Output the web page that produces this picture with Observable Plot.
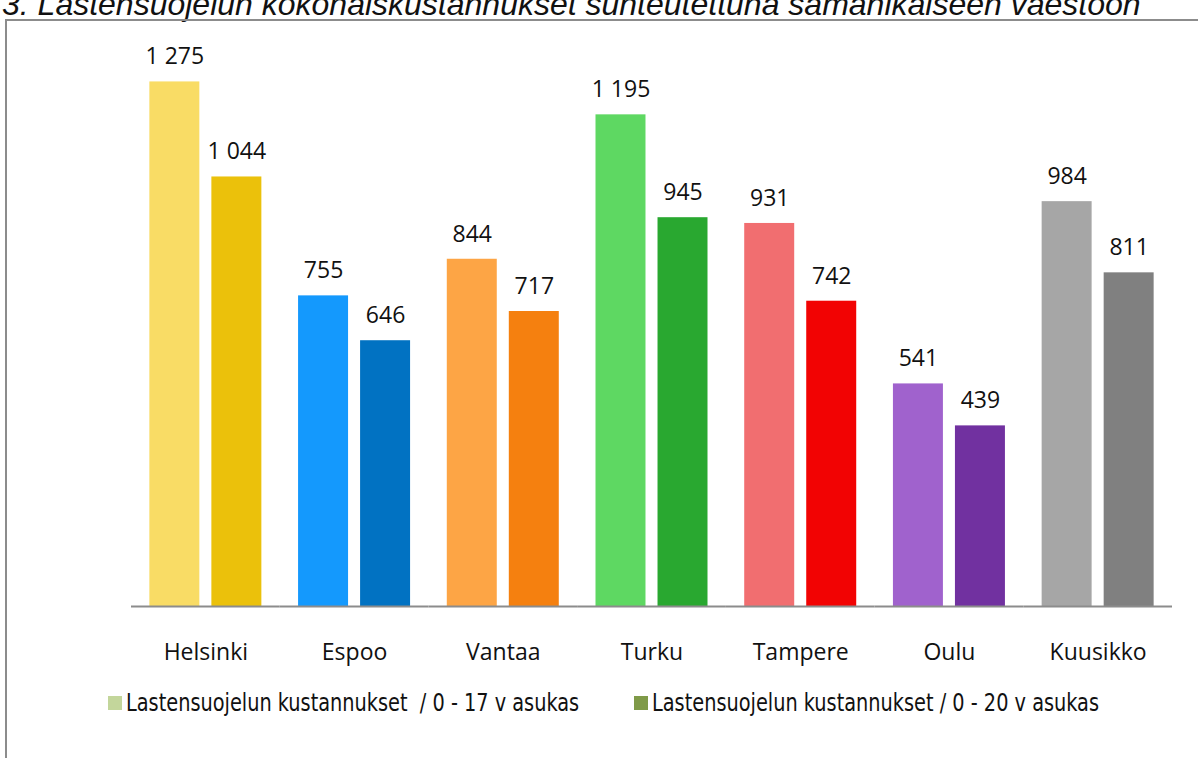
<!DOCTYPE html>
<html>
<head>
<meta charset="utf-8">
<script src="https://cdn.jsdelivr.net/npm/d3@7"></script>
<script src="https://cdn.jsdelivr.net/npm/@observablehq/plot@0.6"></script>
<style>
  html, body { margin: 0; padding: 0; background: #fff; overflow: hidden; }
  #wrap { position: relative; width: 1198px; height: 758px; overflow: hidden; }
  #title { position: absolute; left: 2px; top: -12px; font-family: "Liberation Sans", Arial, sans-serif; font-style: italic; font-size: 32px; line-height: 32px; color: #111; white-space: nowrap; }
  #frame { position: absolute; left: 5px; top: 19px; width: 1300px; height: 900px; border-left: 2px solid #8c8c8c; border-top: 2px solid #8c8c8c; }
  #chart { position: absolute; left: 0; top: 0; }
  #legend { position: absolute; left: 0; top: 689px; width: 1198px; height: 30px; font-family: "Liberation Sans Narrow", "DejaVu Sans Condensed", Roboto, sans-serif; font-size: 24px; color: #111; }
  .item { position: absolute; top: 0; display: flex; align-items: center; white-space: pre; }
  .sw { width: 14px; height: 14px; margin-right: 4px; flex: none; }
  .tx { display: inline-block; transform: scaleX(0.895); transform-origin: left center; }
</style>
</head>
<body>
<div id="wrap">
  <div id="title">3. Lastensuojelun kokonaiskustannukset suhteutettuna samanikäiseen väestöön</div>
  <div id="frame"></div>
  <div id="chart"></div>
  <div id="legend"></div>
</div>
<script>
const cities = ["Helsinki", "Espoo", "Vantaa", "Turku", "Tampere", "Oulu", "Kuusikko"];
const seriesNames = ["Lastensuojelun kustannukset  / 0 - 17 v asukas", "Lastensuojelun kustannukset / 0 - 20 v asukas"];
const values017 = [1275, 755, 844, 1195, 931, 541, 984];
const values020 = [1044, 646, 717, 945, 742, 439, 811];
const colors017 = ["#F9DC65", "#1499FD", "#FDA545", "#5ED862", "#F16E70", "#A062CD", "#A6A6A6"];
const colors020 = ["#EBC10B", "#0172C2", "#F5800F", "#29A830", "#F20303", "#7131A0", "#808080"];
const legendColors = ["#C3D69B", "#7F9A48"];

const rows = [];
cities.forEach((c, i) => {
  rows.push({city: c, series: "a", value: values017[i], color: colors017[i]});
  rows.push({city: c, series: "b", value: values020[i], color: colors020[i]});
});

const fmt = d3.formatLocale({thousands: "\u00a0", grouping: [3], decimal: ","}).format(",");

const chart = Plot.plot({
  width: 1198,
  height: 680,
  marginLeft: 131,
  marginRight: 26,
  marginTop: 30,
  marginBottom: 74,
  style: {fontFamily: "'Open Sans', sans-serif", fontSize: "23px", color: "#111", background: "transparent", overflow: "visible"},
  fx: {domain: cities, padding: 0, round: false, label: null},
  x: {domain: ["a", "b"], paddingInner: 0.194, paddingOuter: 0.296, round: false, axis: null},
  y: {domain: [0, 1400], axis: null},
  color: {type: "identity"},
  marks: [
    Plot.barY(rows, {fx: "city", x: "series", y: "value", fill: "color"}),
    Plot.text(rows, {fx: "city", x: "series", y: "value", text: d => fmt(d.value), lineAnchor: "middle", dy: -25, fill: "#111", fontSize: 23}),
    Plot.ruleY([0], {stroke: "#8c8c8c", strokeWidth: 2}),
    Plot.axisFx({anchor: "bottom", tickSize: 0, tickPadding: 37, fontSize: 23, label: null, fill: "#111"})
  ]
});
document.getElementById("chart").appendChild(chart);

const legend = document.getElementById("legend");
const legendX = [108, 634];
seriesNames.forEach((name, i) => {
  const item = document.createElement("div");
  item.className = "item";
  item.style.left = legendX[i] + "px";
  const sw = document.createElement("span");
  sw.className = "sw";
  sw.style.background = legendColors[i];
  const tx = document.createElement("span");
  tx.className = "tx";
  tx.textContent = name;
  item.appendChild(sw);
  item.appendChild(tx);
  legend.appendChild(item);
});
</script>
</body>
</html>
